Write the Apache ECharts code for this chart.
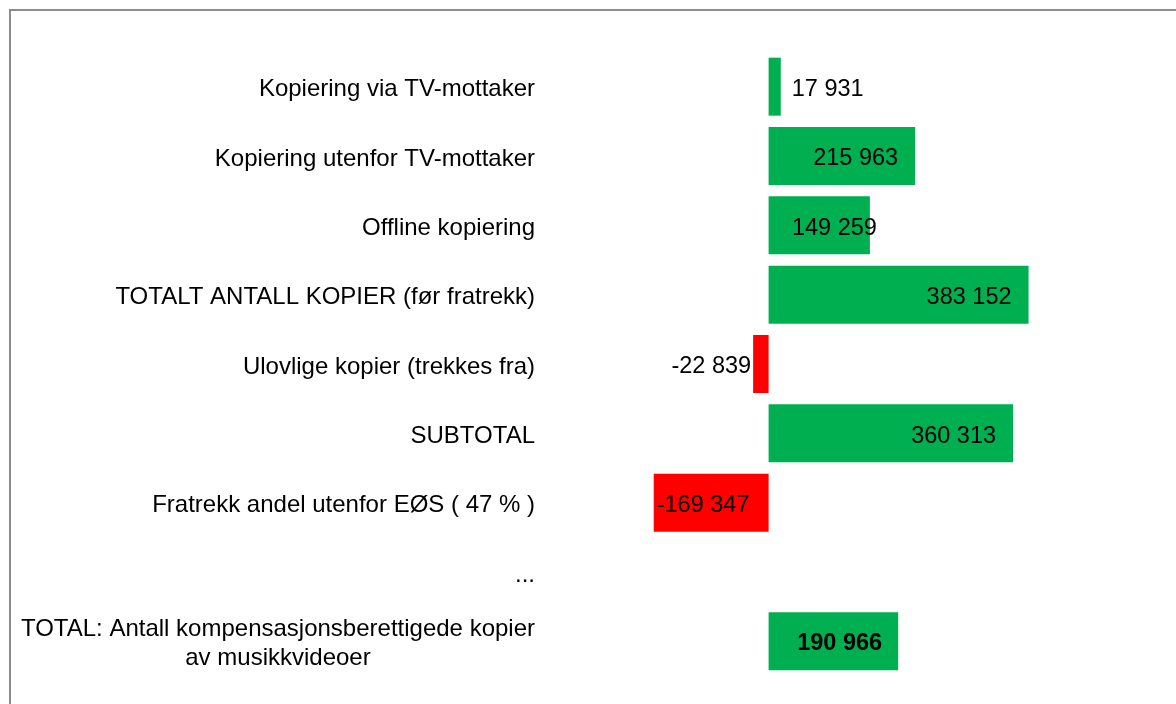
<!DOCTYPE html>
<html>
<head>
<meta charset="utf-8">
<script src="https://cdn.jsdelivr.net/npm/echarts@6/dist/echarts.min.js"></script>
<style>
  html, body { margin: 0; padding: 0; background: #fff; }
  #chart { width: 1176px; height: 704px; }
</style>
</head>
<body>
<div id="chart"></div>
<script>
const categories = [
  "Kopiering via TV-mottaker",
  "Kopiering utenfor TV-mottaker",
  "Offline kopiering",
  "TOTALT ANTALL KOPIER (før fratrekk)",
  "Ulovlige kopier (trekkes fra)",
  "SUBTOTAL",
  "Fratrekk andel utenfor EØS ( 47 % )",
  "...",
  "TOTAL: Antall kompensasjonsberettigede kopier\nav musikkvideoer",
];
const values = [17931, 215963, 149259, 383152, -22839, 360313, -169347, null, 190966];

const green = "#00B050";
const red = "#FF0000";
const fontFamily = "'Liberation Sans', Arial, sans-serif";

// hand-placed value labels, as in the source sheet
const labelPlacement = [
  { position: "right", distance: 11, offset: [0, 3] },
  { position: "insideRight", distance: 17, offset: [0, 3] },
  { position: "insideRight", distance: 0, offset: [7, 3] },
  { position: "insideRight", distance: 17, offset: [0, 3] },
  { position: "left", distance: 2, offset: [0, 3] },
  { position: "insideRight", distance: 17, offset: [0, 3] },
  { position: "insideLeft", distance: 3, offset: [0, 3] },
  { position: "insideRight", distance: 0 },
  { position: "insideRight", distance: 16, fontWeight: "bold", offset: [0, 2] },
];

const formatNumber = (v) => {
  const sign = v < 0 ? "-" : "";
  return sign + String(Math.abs(v)).replace(/\B(?=(\d{3})+(?!\d))/g, " ");
};

const chart = echarts.init(document.getElementById("chart"));

chart.setOption({
  animation: false,
  graphic: [
    {
      type: "rect",
      shape: { x: 10, y: 10, width: 1400, height: 900 },
      style: { fill: "none", stroke: "#8c8c8c", lineWidth: 2 },
      silent: true,
    },
  ],
  grid: { left: 599, right: 136, top: 52, bottom: 28 },
  xAxis: {
    type: "value",
    min: -250000,
    max: 400000,
    show: false,
  },
  yAxis: {
    type: "category",
    inverse: true,
    data: categories,
    axisLine: { show: false, onZero: false },
    axisTick: { show: false },
    splitLine: { show: false },
    axisLabel: {
      margin: 64,
      color: "#000",
      fontFamily,
      fontSize: 24,
      lineHeight: 29,
      padding: [6, 0, 0, 0],
      formatter: (value) =>
        value.indexOf("\n") >= 0 ? "{c|" + value.split("\n").join("}\n{c|") + "}" : value,
      rich: {
        c: { align: "center", color: "#000", fontFamily, fontSize: 24, lineHeight: 29 },
      },
    },
  },
  series: [
    {
      type: "bar",
      barWidth: 58,
      data: values.map((v, i) => ({
        value: v,
        itemStyle: { color: v < 0 ? red : green },
        label: Object.assign(
          {
            show: v !== null,
            color: "#000",
            fontFamily,
            fontSize: 23.5,
            formatter: (p) => formatNumber(p.value),
          },
          labelPlacement[i]
        ),
      })),
    },
  ],
});
</script>
</body>
</html>
